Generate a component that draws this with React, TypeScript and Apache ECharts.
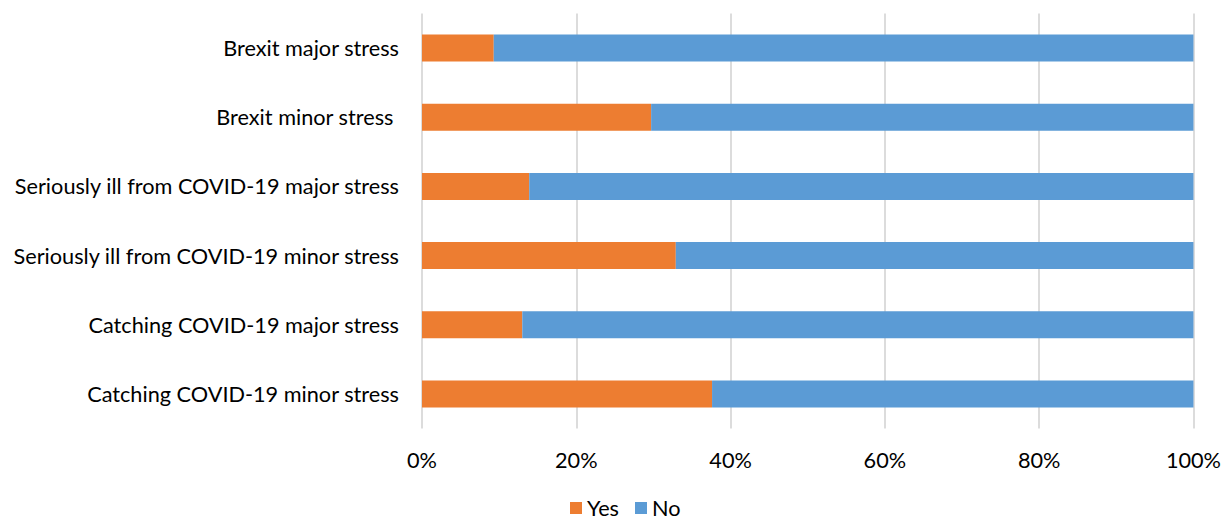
import React, { useEffect, useRef } from "react";
import * as echarts from "echarts";

const categories = [
  "Catching COVID-19 minor stress",
  "Catching COVID-19 major stress",
  "Seriously ill from COVID-19 minor stress",
  "Seriously ill from COVID-19 major stress",
  "Brexit minor stress ",
  "Brexit major stress",
];
const yesValues = [37.6, 13.0, 32.9, 13.9, 29.7, 9.3];
const noValues = [62.4, 87.0, 67.1, 86.1, 70.3, 90.7];
const xTicks = [0, 20, 40, 60, 80, 100];

const FONT = "Lato, 'Open Sans', sans-serif";
const FS = 21.7;

export default function App() {
  const ref = useRef<HTMLDivElement>(null);
  useEffect(() => {
    if (!ref.current) return;
    const chart = echarts.init(ref.current, undefined, { renderer: "svg" });
    chart.setOption({
      animation: false,
      textStyle: { fontFamily: FONT },
      grid: { left: 422, right: 28.5, top: 13.5, bottom: 91.5, containLabel: false },
      legend: {
        data: ["Yes", "No"],
        top: 497,
        left: 570,
        padding: 0,
        itemWidth: 12,
        itemHeight: 12,
        itemGap: 16,
        icon: "rect",
        textStyle: { fontSize: FS, color: "#000", fontFamily: FONT, padding: [0, 0, 0, 0] },
      },
      xAxis: {
        type: "value",
        min: 0,
        max: 100,
        interval: 20,
        axisLine: { show: false },
        axisTick: { show: false },
        splitLine: { show: true, lineStyle: { color: "#d9d9d9", width: 1.8 } },
        axisLabel: {
          fontSize: FS,
          color: "#000",
          margin: 20,
          formatter: (v: number) => (xTicks.includes(v) ? v + "%" : ""),
        },
      },
      yAxis: {
        type: "category",
        data: categories,
        axisLine: { show: false },
        axisTick: { show: false },
        axisLabel: { fontSize: FS, color: "#000", margin: 23 },
      },
      series: [
        {
          name: "Yes",
          type: "bar",
          stack: "total",
          data: yesValues,
          barWidth: "39%",
          itemStyle: { color: "#ED7D31" },
        },
        {
          name: "No",
          type: "bar",
          stack: "total",
          data: noValues,
          barWidth: "39%",
          itemStyle: { color: "#5B9BD5" },
        },
      ],
    });
    return () => chart.dispose();
  }, []);
  return (
    <div
      ref={ref}
      style={{ position: "fixed", left: 0, top: 0, width: 1224, height: 520, background: "#fff" }}
    />
  );
}
